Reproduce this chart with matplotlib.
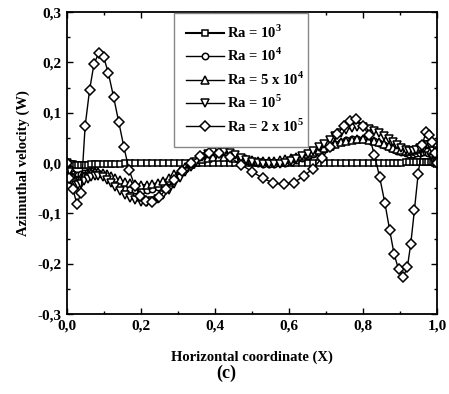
import numpy as np
import matplotlib
matplotlib.use("Agg")
import matplotlib.pyplot as plt
from matplotlib.patches import Rectangle
from matplotlib.ticker import MultipleLocator, FuncFormatter

plt.rcParams['font.family'] = ['Liberation Serif', 'DejaVu Serif']
plt.rcParams['font.weight'] = 'bold'
plt.rcParams['mathtext.fontset'] = 'custom'
plt.rcParams['mathtext.rm'] = 'Liberation Serif:bold'
plt.rcParams['mathtext.bf'] = 'Liberation Serif:bold'

# mesh used for the four lower Rayleigh numbers
x_grid = [0.000, 0.005, 0.011, 0.017, 0.024, 0.031, 0.039, 0.047, 0.056, 0.065,
          0.075, 0.085, 0.096, 0.107, 0.119, 0.131, 0.144, 0.157, 0.171, 0.185,
          0.200, 0.215, 0.230, 0.245, 0.260, 0.275, 0.290, 0.305, 0.320, 0.335,
          0.350, 0.365, 0.380, 0.395, 0.410, 0.425, 0.440, 0.455, 0.470, 0.485,
          0.500, 0.515, 0.530, 0.545, 0.560, 0.575, 0.590, 0.605, 0.620, 0.635,
          0.650, 0.665, 0.680, 0.695, 0.710, 0.725, 0.740, 0.755, 0.770, 0.785,
          0.800, 0.815, 0.829, 0.843, 0.856, 0.869, 0.881, 0.893, 0.904, 0.915,
          0.925, 0.935, 0.944, 0.953, 0.961, 0.969, 0.976, 0.983, 0.989, 0.995,
          1.000]

w_ra1e3 = [0.000, -0.001, -0.002, -0.002, -0.003, -0.003, -0.003, -0.003, -0.003, -0.002,
           -0.002, -0.002, -0.002, -0.001, -0.001, -0.001, -0.001, 0.000, 0.000, 0.000,
           0.000, 0.000, 0.000, 0.000, 0.000, 0.000, 0.000, 0.000, 0.000, 0.000,
           0.000, 0.000, 0.000, 0.000, 0.000, 0.000, 0.000, 0.000, 0.000, 0.000,
           0.000, 0.000, 0.000, 0.000, 0.000, 0.000, 0.000, 0.000, 0.000, 0.000,
           0.000, 0.000, 0.000, 0.000, 0.000, 0.000, 0.000, 0.000, 0.000, 0.000,
           0.000, 0.000, 0.000, 0.000, 0.001, 0.001, 0.001, 0.001, 0.001, 0.002,
           0.002, 0.002, 0.002, 0.003, 0.003, 0.003, 0.003, 0.002, 0.002, 0.001,
           0.000]

w_ra1e4 = [0.000, -0.010, -0.018, -0.022, -0.024, -0.024, -0.022, -0.019, -0.017, -0.016,
           -0.017, -0.019, -0.023, -0.028, -0.034, -0.040, -0.045, -0.049, -0.052, -0.054,
           -0.055, -0.054, -0.052, -0.048, -0.042, -0.035, -0.027, -0.019, -0.011, -0.004,
           0.002, 0.007, 0.011, 0.014, 0.015, 0.015, 0.013, 0.010, 0.007, 0.004,
           0.002, 0.000, -0.001, -0.001, -0.001, 0.000, 0.001, 0.003, 0.006, 0.009,
           0.013, 0.017, 0.022, 0.027, 0.032, 0.037, 0.041, 0.045, 0.047, 0.048,
           0.048, 0.046, 0.043, 0.039, 0.035, 0.031, 0.027, 0.024, 0.021, 0.019,
           0.018, 0.018, 0.019, 0.020, 0.021, 0.021, 0.020, 0.017, 0.013, 0.007,
           0.000]

w_ra5e4 = [0.000, -0.015, -0.026, -0.032, -0.034, -0.033, -0.030, -0.026, -0.022, -0.019,
           -0.017, -0.017, -0.019, -0.022, -0.026, -0.030, -0.034, -0.037, -0.040, -0.042,
           -0.043, -0.043, -0.042, -0.039, -0.035, -0.029, -0.022, -0.015, -0.008, -0.002,
           0.003, 0.007, 0.010, 0.011, 0.012, 0.012, 0.011, 0.010, 0.008, 0.007,
           0.006, 0.005, 0.005, 0.005, 0.005, 0.006, 0.007, 0.009, 0.011, 0.014,
           0.018, 0.021, 0.025, 0.029, 0.033, 0.037, 0.041, 0.044, 0.046, 0.047,
           0.047, 0.046, 0.044, 0.041, 0.037, 0.033, 0.030, 0.027, 0.025, 0.024,
           0.024, 0.025, 0.027, 0.029, 0.031, 0.031, 0.030, 0.026, 0.020, 0.011,
           0.000]

w_ra1e5 = [0.000, -0.018, -0.032, -0.040, -0.044, -0.044, -0.041, -0.036, -0.031, -0.027,
           -0.025, -0.025, -0.028, -0.033, -0.040, -0.048, -0.056, -0.063, -0.069, -0.074,
           -0.077, -0.078, -0.076, -0.071, -0.063, -0.053, -0.042, -0.030, -0.018, -0.007,
           0.003, 0.011, 0.017, 0.021, 0.023, 0.022, 0.019, 0.015, 0.010, 0.006,
           0.003, 0.001, -0.001, -0.002, -0.002, -0.001, 0.001, 0.004, 0.008, 0.013,
           0.018, 0.024, 0.031, 0.038, 0.046, 0.053, 0.060, 0.066, 0.070, 0.072,
           0.071, 0.068, 0.064, 0.059, 0.053, 0.047, 0.041, 0.035, 0.030, 0.026,
           0.024, 0.024, 0.026, 0.030, 0.034, 0.036, 0.035, 0.031, 0.024, 0.013,
           0.000]

# finer mesh for Ra = 2 x 10^5
x_ra2e5 = [0.000, 0.006, 0.016, 0.027, 0.038, 0.049, 0.061, 0.073, 0.086, 0.099,
           0.112, 0.126, 0.140, 0.154, 0.168, 0.183, 0.198, 0.214, 0.231, 0.249,
           0.268, 0.288, 0.310, 0.334, 0.359, 0.385, 0.412, 0.440, 0.470, 0.500,
           0.529, 0.558, 0.586, 0.613, 0.640, 0.665, 0.689, 0.712, 0.731, 0.748,
           0.765, 0.782, 0.800, 0.816, 0.831, 0.845, 0.859, 0.872, 0.884, 0.896,
           0.909, 0.920, 0.929, 0.939, 0.949, 0.960, 0.970, 0.979, 0.987, 0.994,
           1.000]

w_ra2e5 = [0.000, -0.030, -0.052, -0.082, -0.059, 0.073, 0.145, 0.197, 0.219, 0.211,
           0.178, 0.131, 0.081, 0.031, -0.014, -0.045, -0.066, -0.076, -0.077, -0.068,
           -0.052, -0.033, -0.015, 0.001, 0.013, 0.020, 0.020, 0.011, -0.003, -0.017,
           -0.030, -0.040, -0.042, -0.039, -0.026, -0.011, 0.010, 0.032, 0.057, 0.074,
           0.084, 0.087, 0.074, 0.055, 0.016, -0.028, -0.079, -0.133, -0.181, -0.211,
           -0.226, -0.206, -0.161, -0.093, -0.022, 0.035, 0.062, 0.055, 0.042, 0.020,
           0.000]

labels = [r'Ra = 10$^{3}$', r'Ra = 10$^{4}$', r'Ra = 5 x 10$^{4}$',
          r'Ra = 10$^{5}$', r'Ra = 2 x 10$^{5}$']

fig = plt.figure(figsize=(4.49, 3.94), dpi=100)
ax = fig.add_axes([0.1492, 0.203, 0.8241, 0.7665])

series = [
    (x_grid, w_ra1e3, 's', 4.2, 1.5),
    (x_grid, w_ra1e4, 'o', 4.6, 1.0),
    (x_grid, w_ra5e4, '^', 5.2, 1.0),
    (x_grid, w_ra1e5, 'v', 5.2, 1.0),
    (x_ra2e5, w_ra2e5, 'D', 5.6, 1.0),
]
handles = []
for (xs, ys, mk, ms, lw), lab in zip(series, labels):
    h, = ax.plot(xs, ys, color='black', lw=lw, marker=mk, ms=ms,
                 mfc='white', mec='black', mew=1.1, label=lab)
    handles.append(h)

ax.set_xlim(0, 1)
ax.set_ylim(-0.3, 0.3)
ax.xaxis.set_major_locator(MultipleLocator(0.2))
ax.xaxis.set_minor_locator(MultipleLocator(0.1))
ax.yaxis.set_major_locator(MultipleLocator(0.1))
ax.yaxis.set_minor_locator(MultipleLocator(0.05))
comma = FuncFormatter(lambda v, p: ('%.1f' % v).replace('.', ',').replace('-0,0', '0,0'))
ax.xaxis.set_major_formatter(comma)
ax.yaxis.set_major_formatter(comma)
ax.tick_params(which='both', direction='in', top=True, right=True, width=1.0,
               labelsize=11, pad=4)
ax.tick_params(which='major', length=4.5)
ax.tick_params(which='minor', length=2.5)
for s in ax.spines.values():
    s.set_linewidth(1.3)

ax.set_xlabel('Horizontal coordinate (X)', fontsize=10.5, fontweight='bold', labelpad=13)
ax.set_ylabel('Azimuthal velocity (W)', fontsize=10.5, fontweight='bold', labelpad=5)

# legend frame drawn separately so its size can be set exactly
ax.add_patch(Rectangle((0.289, 0.553), 0.362, 0.444, transform=ax.transAxes,
                       fill=True, facecolor='white', edgecolor='#888888', lw=1.0, zorder=5))
leg = ax.legend(handles=handles, loc='center', bbox_to_anchor=(0.482, 0.778),
                frameon=False, fontsize=10.5, handlelength=2.6, handletextpad=0.2,
                labelspacing=0.42, borderpad=0)
leg.set_zorder(6)

fig.text(0.505, 0.053, '(c)', ha='center', va='center', fontsize=13, fontweight='bold')

fig.savefig('out.png', dpi=100)
